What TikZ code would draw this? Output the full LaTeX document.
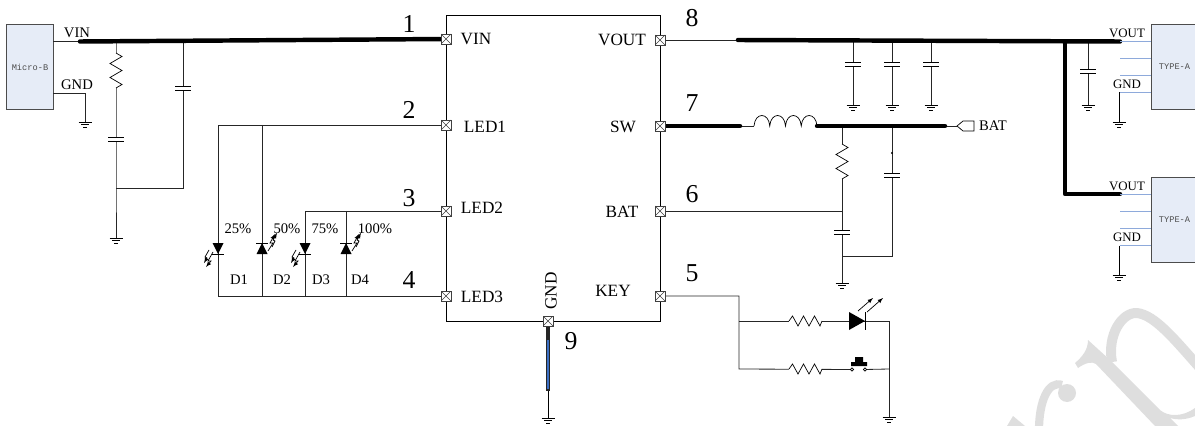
\documentclass[tikz,border=0pt]{standalone}
\usepackage{fontspec}
\setmainfont{Liberation Serif}
\setmonofont{Liberation Mono}
\usepackage{xcolor}
\usepackage{tikz}
\usetikzlibrary{calc}

\definecolor{boxblue}{HTML}{E6ECF7}
\definecolor{pinblue}{HTML}{8EAADB}
\definecolor{corblue}{HTML}{3B6FC4}
\definecolor{wmgray}{HTML}{DEDEDE}
\newcommand{\unitpx}{0.03cm}

\tikzset{
    wire/.style={line width=0.7pt, black!85},
    busline/.style={line width=3.8pt, black, line cap=round},
    usbpin/.style={line width=1pt, pinblue},
    wmark/.style={line width=8.5pt, wmgray},
    pinbox/.style={draw=black!75, fill=white, line width=0.6pt, inner sep=0pt, minimum size=10*\unitpx,
        path picture={\draw[line width=0.5pt] (path picture bounding box.south west) -- (path picture bounding box.north east)
            (path picture bounding box.north west) -- (path picture bounding box.south east);}},
    portbox/.style={draw=black!70, fill=boxblue, line width=0.8pt, inner sep=0pt, text=black!70, font=\ttfamily\fontsize{7.4}{8}\selectfont},
    chiplabel/.style={inner sep=0pt, font=\fontsize{14.7}{16}\selectfont},
    sidelabel/.style={inner sep=0pt, font=\fontsize{12.5}{14}\selectfont},
    usblabel/.style={inner sep=0pt, font=\fontsize{11}{12}\selectfont},
    numlabel/.style={inner sep=0pt, font=\fontsize{22}{24}\selectfont},
    gndsym/.pic={
        \draw[line width=0.6pt] (-6.5,0) -- (6.5,0) (-4,2.5) -- (4,2.5) (-1.8,5) -- (1.8,5);
    },
    capv/.pic={
        \fill[white] (-8,0) rectangle (8,4);
        \draw[line width=0.6pt] (-8,0) -- (8,0) (-8,4) -- (8,4);
    },
    resv/.pic={
        \fill[white] (-7,0) rectangle (7,35);
        \draw[line width=0.6pt] (0,0) -- (6,3.5) -- (-6,10.5) -- (6,17.5) -- (-6,24.5) -- (6,31.5) -- (0,35);
    },
    resh/.pic={
        \fill[white] (0,-7) rectangle (33,7);
        \draw[line width=0.6pt] (0,0) -- (3.5,-5) -- (9,5) -- (14.5,-5) -- (20,5) -- (25.5,-5) -- (31,5) -- (33,0);
    },
    leddn/.pic={
        \fill (-5.5,0) -- (5.5,0) -- (0,11) -- cycle;
        \draw[line width=0.6pt] (-6,11) -- (6,11);
        \draw[-latex, line width=0.6pt] (-5,9) -- (-10,18) -- (-7,18) -- (-12,24);
        \draw[-latex, line width=0.6pt] (-9,7) -- (-13,14) -- (-11,15) -- (-14,20);
    },
    ledup/.pic={
        \fill (-5.5,11) -- (5.5,11) -- (0,0) -- cycle;
        \draw[line width=0.6pt] (-6,0) -- (6,0);
        \draw[-latex, line width=0.6pt] (6,8) -- (11,0) -- (8,0) -- (13,-9);
        \draw[-latex, line width=0.6pt] (10,4) -- (13,-2) -- (11,-3) -- (15,-10);
    }
}

\begin{document}
\begin{tikzpicture}[x=\unitpx, y=-\unitpx]
    \useasboundingbox (0,0) rectangle (1195,426);

    % watermark
    \fill[wmgray] (1067,393) circle (9);
    \draw[wmark, line width=7pt] (1062,385) .. controls (1048,380) and (1039,402) .. (1039,430);
    \fill[wmgray] (1007,426) -- (1013,416) -- (1025,426) -- cycle;
    \fill[wmgray] (1088,340) -- (1110,360) -- (1160,410) .. controls (1168,417) and (1183,417) .. (1195,408)
        -- (1195,416) .. controls (1186,420) and (1177,420) .. (1170,418) -- (1178,426) -- (1155,426) -- (1096,364)
        .. controls (1092,361) and (1085,363) .. (1078,368) -- (1075,363) .. controls (1082,357) and (1088,350) .. cycle;
    \draw[wmark] (1112,362) .. controls (1107,335) and (1122,312) .. (1137,313) .. controls (1155,315) and (1175,340) .. (1200,368);

    % chip
    \node[draw, line width=0.7pt, inner sep=0pt, minimum width=214*\unitpx, minimum height=306*\unitpx] (chip) at (553,168) {};

    % pins
    \foreach \nm/\x/\y in {VIN/446/39, LEDa/446/125, LEDb/446/211, LEDc/446/296, VOUT/660/40, SW/660/126, BAT/660/211, KEY/660/296, GND/548/321} {
        \coordinate (pt\nm) at (\x,\y);
    }

    % usb side
    \node[portbox, minimum width=47*\unitpx, minimum height=85*\unitpx] (microb) at (30,67) {Micro-B};
    \node[portbox, minimum width=47*\unitpx, minimum height=85*\unitpx] (typea) at (1174.5,67) {TYPE-A};
    \node[portbox, minimum width=47*\unitpx, minimum height=85*\unitpx] (typeb) at (1174.5,220) {TYPE-A};

    % input
    \coordinate (vinS) at (53,41.5);
    \coordinate (vinT) at (80,41.5);
    \coordinate (vinR) at (116,41.3);
    \coordinate (vinC) at (183,41);
    \coordinate (rcJ) at (116,188);
    \coordinate (rcC) at (183,188);
    \coordinate (rcG) at (116,238);
    \coordinate (gndS) at (53,93);
    \coordinate (gndE) at (85,122);
    \draw[wire] (vinS) -- (vinT);
    \draw[wire] (vinR) -- (rcJ) -- (rcG);
    \draw[wire] (vinC) -- (rcC) -- (rcJ);
    \draw[wire] (gndS) -| (gndE);
    \draw[busline] (vinT) -- (ptVIN);
    \pic at (116,53) {resv};
    \pic at (116,137.5) {capv};
    \pic at (183,86.5) {capv};
    \pic at (rcG) {gndsym};
    \pic at (gndE) {gndsym};

    % led wiring
    \coordinate (ledA) at (218,125);
    \coordinate (ledB) at (262,125);
    \coordinate (ledC) at (305,211);
    \coordinate (ledD) at (346,211);
    \coordinate (botA) at (218,296);
    \coordinate (botB) at (262,296);
    \coordinate (botC) at (305,296);
    \coordinate (botD) at (346,296);
    \draw[wire] (ptLEDa) -- (ledA) -- (botA) -- (ptLEDc);
    \draw[wire] (ledB) -- (botB);
    \draw[wire] (ptLEDb) -- (ledC) -- (botC);
    \draw[wire] (ledD) -- (botD);
    \pic at (218,243) {leddn};
    \pic at (262,243) {ledup};
    \pic at (305,243) {leddn};
    \pic at (346,243) {ledup};

    % output
    \coordinate (voutT) at (738,40);
    \coordinate (voutE) at (1120,41.5);
    \coordinate (voutB) at (1065,41.5);
    \coordinate (voutC) at (1065,194);
    \coordinate (voutF) at (1120,194);
    \draw[wire] (ptVOUT) -- (voutT);
    \foreach \x in {853,892,931} {
        \coordinate (capT\x) at (\x,41);
        \coordinate (capG\x) at (\x,105);
        \draw[wire] (capT\x) -- (capG\x);
        \pic at (\x,62.5) {capv};
        \pic at (capG\x) {gndsym};
    }
    \coordinate (capTu) at (1088,41.5);
    \coordinate (capGu) at (1088,105);
    \draw[wire] (capTu) -- (capGu);
    \pic at (1088,69) {capv};
    \pic at (capGu) {gndsym};
    \draw[busline] (voutT) -- (voutE);
    \draw[busline, line join=round] (voutB) -- (voutC) -- (voutF);

    % usb pins
    \foreach \y in {41.7, 58.7, 75.7, 92.3, 194.3, 211.7, 228.7, 245.7} {
        \coordinate (pinL) at (1120,\y);
        \coordinate (pinR) at (1151,\y);
        \draw[usbpin] (pinL) -- (pinR);
    }
    \coordinate (gndAs) at (1119,92.3);
    \coordinate (gndAe) at (1119,122);
    \coordinate (gndBs) at (1119,245.7);
    \coordinate (gndBe) at (1119,275);
    \draw[line width=0.7pt] (gndAs) -- (gndAe);
    \draw[line width=0.7pt] (gndBs) -- (gndBe);
    \pic at (gndAe) {gndsym};
    \pic at (gndBe) {gndsym};

    % switch node
    \coordinate (swT) at (740,126);
    \coordinate (indS) at (754,126);
    \coordinate (indE) at (817,126);
    \coordinate (batT) at (945,126);
    \coordinate (batP) at (957,126);
    \coordinate (resT) at (842,126);
    \coordinate (resJ) at (842,211);
    \coordinate (resB) at (842,256);
    \coordinate (resG) at (842,283);
    \coordinate (capT) at (892,126);
    \coordinate (capB) at (892,256);
    \draw[wire] (swT) -- (indS);
    \draw[line width=0.6pt] (indS) .. controls +(1,-14) and +(-1,-14) .. ++(15.75,0)
        .. controls +(1,-14) and +(-1,-14) .. ++(15.75,0)
        .. controls +(1,-14) and +(-1,-14) .. ++(15.75,0)
        .. controls +(1,-14) and +(-1,-14) .. (indE);
    \draw[wire] (batT) -- (batP);
    \draw[wire] (resT) -- (resG);
    \draw[wire] (capT) -- (capB) -- (resB);
    \draw[wire] (ptBAT) -- (resJ);
    \draw[busline] (ptSW) -- (swT);
    \draw[busline] (indE) -- (batT);
    \fill (892,153) circle (1.2);
    \pic at (842,144) {resv};
    \pic at (892,173) {capv};
    \pic at (842,230) {capv};
    \pic at (resG) {gndsym};
    \draw[line width=0.6pt] (batP) -- (963,121) -- (974,121) -- (974,131) -- (963,131) -- cycle;

    % key
    \coordinate (keyA) at (739,296);
    \coordinate (keyB) at (739,321);
    \coordinate (keyC) at (739,369);
    \coordinate (keyD) at (889,321);
    \coordinate (keyE) at (889,369);
    \coordinate (keyG) at (889,417);
    \coordinate (swL) at (852,369.5);
    \coordinate (swR) at (865,369.5);
    \draw[wire] (ptKEY) -- (keyA) -- (keyC) -- (swL);
    \draw[wire] (keyB) -- (keyD) -- (keyG);
    \draw[wire] (swR) -- (keyE);
    \pic at (789,321) {resh};
    \pic at (789,369) {resh};
    \pic at (keyG) {gndsym};
    \fill (849,312) -- (865,321) -- (849,330) -- cycle;
    \draw[line width=0.6pt] (865,312) -- (865,330);
    \draw[-latex, line width=0.6pt] (858,311) -- (873,298);
    \draw[-latex, line width=0.6pt] (867,312) -- (883,298);
    \draw[line width=0.6pt, fill=white] (swL) circle (1.6) (swR) circle (1.6);
    \fill (851,366) rectangle (867,362) (855,362) rectangle (863,357);

    % gnd pin
    \coordinate (gndT) at (548,391);
    \coordinate (gndM) at (548,340);
    \coordinate (gndP) at (548,418);
    \draw[line width=0.7pt] (gndT) -- (gndP);
    \draw[line width=3.2pt, black!85] (ptGND) -- (gndT);
    \draw[line width=1.1pt, corblue] (gndM) -- (548,389);
    \pic at (gndP) {gndsym};

    % pin boxes
    \foreach \nm/\x/\y in {VIN/446/39, LEDa/446/125, LEDb/446/211, LEDc/446/296, VOUT/660/40, SW/660/126, BAT/660/211, KEY/660/296, GND/548/321} {
        \node[pinbox] (pin\nm) at (\x,\y) {};
    }

    % labels
    \foreach \nm/\x/\y/\txt in {a/476/39/VIN, b/485/126.5/LED1, c/482/208/LED2, d/482/296.5/LED3, e/622/39.5/VOUT, f/623/126.5/SW, g/622/211.5/BAT, h/613/290.5/KEY} {
        \node[chiplabel] (lbl\nm) at (\x,\y) {\txt};
    }
    \foreach \nm/\x/\y/\txt in {i/77/33/VIN, j/77/85/GND, k/993/126/BAT, p/239/280/D1, q/282/280/D2, r/321/280/D3, s/360/280/D4, t/238/229/25\%, u/287/229/50\%, v/325/229/75\%, w/375/229/100\%} {
        \node[sidelabel] (lbl\nm) at (\x,\y) {\txt};
    }
    \foreach \nm/\y/\txt in {l/33/VOUT, m/84/GND, n/186/VOUT, o/237/GND} {
        \node[usblabel] (lbl\nm) at (1127,\y) {\txt};
    }
    \node[chiplabel, rotate=90] (lblGND) at (551,291) {GND};
    \foreach \x/\y/\txt in {409/24/1, 409/110/2, 409/198/3, 409/280/4, 692/18/8, 692/103/7, 692/194/6, 692/273/5, 571/341/9} {
        \node[numlabel] (num\txt) at (\x,\y) {\txt};
    }
\end{tikzpicture}
\end{document}
